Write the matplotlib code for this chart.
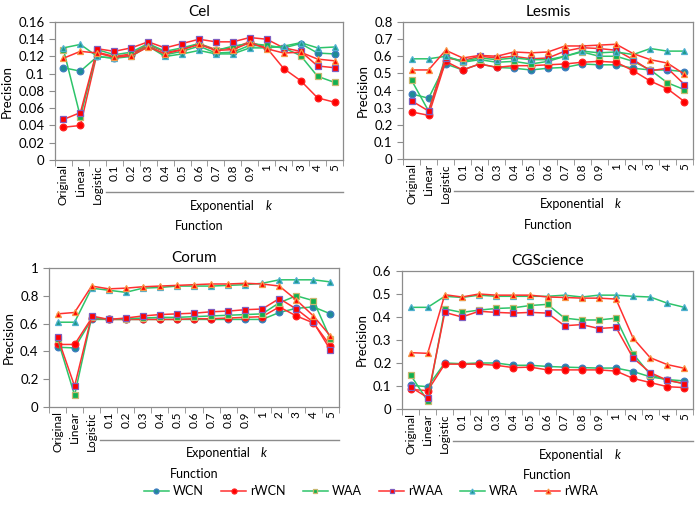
import matplotlib
matplotlib.use('Agg')
import matplotlib.pyplot as plt
from matplotlib.ticker import FuncFormatter

plt.rcParams['font.family'] = ['Lato', 'DejaVu Sans']

# categories on the x axis
categories = ['Original', 'Linear', 'Logistic', '0.1', '0.2', '0.3', '0.4', '0.5',
              '0.6', '0.7', '0.8', '0.9', '1', '2', '3', '4', '5']
series_names = ['WCN', 'rWCN', 'WAA', 'rWAA', 'WRA', 'rWRA']

# Cel
cel_wcn = [0.107, 0.103, 0.120, 0.118, 0.122, 0.133, 0.122, 0.126, 0.132, 0.124, 0.125, 0.133, 0.132, 0.130, 0.135, 0.124, 0.123]
cel_rwcn = [0.038, 0.040, 0.125, 0.120, 0.123, 0.134, 0.125, 0.128, 0.135, 0.128, 0.130, 0.137, 0.130, 0.106, 0.092, 0.072, 0.067]
cel_waa = [0.128, 0.050, 0.128, 0.122, 0.125, 0.135, 0.126, 0.130, 0.135, 0.127, 0.132, 0.135, 0.133, 0.130, 0.121, 0.097, 0.090]
cel_rwaa = [0.047, 0.055, 0.129, 0.126, 0.130, 0.137, 0.130, 0.135, 0.140, 0.137, 0.137, 0.142, 0.140, 0.130, 0.126, 0.109, 0.107]
cel_wra = [0.130, 0.134, 0.120, 0.118, 0.120, 0.132, 0.120, 0.123, 0.127, 0.123, 0.123, 0.130, 0.130, 0.132, 0.136, 0.130, 0.131]
cel_rwra = [0.118, 0.126, 0.124, 0.119, 0.121, 0.131, 0.123, 0.128, 0.134, 0.127, 0.128, 0.136, 0.129, 0.124, 0.125, 0.117, 0.115]

# Lesmis
les_wcn = [0.38, 0.355, 0.555, 0.52, 0.555, 0.535, 0.53, 0.52, 0.53, 0.535, 0.555, 0.55, 0.55, 0.53, 0.52, 0.52, 0.51]
les_rwcn = [0.275, 0.255, 0.57, 0.52, 0.555, 0.535, 0.545, 0.545, 0.55, 0.555, 0.565, 0.57, 0.565, 0.515, 0.455, 0.41, 0.335]
les_waa = [0.46, 0.28, 0.60, 0.565, 0.58, 0.565, 0.57, 0.555, 0.57, 0.60, 0.625, 0.60, 0.60, 0.57, 0.52, 0.445, 0.405]
les_rwaa = [0.34, 0.28, 0.59, 0.575, 0.60, 0.59, 0.60, 0.585, 0.59, 0.63, 0.65, 0.645, 0.635, 0.58, 0.515, 0.53, 0.435]
les_wra = [0.585, 0.585, 0.60, 0.57, 0.59, 0.58, 0.59, 0.58, 0.58, 0.60, 0.63, 0.62, 0.625, 0.61, 0.645, 0.63, 0.63]
les_rwra = [0.52, 0.52, 0.635, 0.59, 0.605, 0.60, 0.625, 0.62, 0.625, 0.66, 0.66, 0.665, 0.67, 0.615, 0.58, 0.56, 0.495]

# Corum
cor_wcn = [0.43, 0.425, 0.63, 0.63, 0.63, 0.63, 0.63, 0.63, 0.63, 0.63, 0.63, 0.63, 0.63, 0.68, 0.71, 0.72, 0.67]
cor_rwcn = [0.45, 0.45, 0.64, 0.63, 0.63, 0.63, 0.63, 0.63, 0.635, 0.635, 0.64, 0.645, 0.65, 0.72, 0.655, 0.605, 0.44]
cor_waa = [0.49, 0.085, 0.645, 0.63, 0.635, 0.64, 0.645, 0.645, 0.65, 0.655, 0.66, 0.665, 0.67, 0.75, 0.80, 0.765, 0.49]
cor_rwaa = [0.505, 0.15, 0.655, 0.63, 0.64, 0.655, 0.665, 0.67, 0.675, 0.685, 0.69, 0.70, 0.705, 0.78, 0.705, 0.61, 0.41]
cor_wra = [0.61, 0.61, 0.855, 0.84, 0.825, 0.855, 0.86, 0.87, 0.87, 0.87, 0.875, 0.88, 0.89, 0.915, 0.915, 0.915, 0.90]
cor_rwra = [0.67, 0.68, 0.87, 0.85, 0.855, 0.865, 0.87, 0.875, 0.88, 0.885, 0.885, 0.89, 0.885, 0.87, 0.77, 0.655, 0.51]

# CGScience
cgs_wcn = [0.103, 0.097, 0.20, 0.197, 0.20, 0.20, 0.19, 0.19, 0.185, 0.182, 0.18, 0.178, 0.178, 0.163, 0.14, 0.128, 0.122]
cgs_rwcn = [0.085, 0.08, 0.195, 0.195, 0.195, 0.19, 0.18, 0.182, 0.17, 0.17, 0.17, 0.17, 0.165, 0.133, 0.115, 0.097, 0.093]
cgs_waa = [0.148, 0.035, 0.435, 0.42, 0.43, 0.437, 0.44, 0.45, 0.455, 0.395, 0.387, 0.387, 0.395, 0.24, 0.15, 0.125, 0.11]
cgs_rwaa = [0.095, 0.05, 0.42, 0.40, 0.425, 0.42, 0.417, 0.42, 0.417, 0.362, 0.367, 0.35, 0.355, 0.222, 0.158, 0.125, 0.11]
cgs_wra = [0.442, 0.442, 0.49, 0.485, 0.495, 0.49, 0.49, 0.49, 0.49, 0.495, 0.487, 0.495, 0.495, 0.49, 0.487, 0.46, 0.442]
cgs_rwra = [0.245, 0.242, 0.497, 0.487, 0.50, 0.495, 0.495, 0.495, 0.487, 0.485, 0.482, 0.482, 0.478, 0.308, 0.223, 0.193, 0.177]

GREEN = '#2DC46A'
RED = '#FF3030'
# line colour, marker, marker face, marker edge
styles = [
    (GREEN, 'o', '#1E8C96', '#3E7CC0'),
    (RED, 'o', '#FF0000', '#FF2020'),
    (GREEN, 's', '#10B050', '#C8B870'),
    (RED, 's', '#FF0000', '#8060C0'),
    (GREEN, '^', '#1A9A88', '#50B0D0'),
    (RED, '^', '#FF0000', '#F79646'),
]

panels = [
    ('Cel', [cel_wcn, cel_rwcn, cel_waa, cel_rwaa, cel_wra, cel_rwra], 0.16, 0.02,
     [55 / 700, 1 - 160 / 508, 288 / 700, 138 / 508]),
    ('Lesmis', [les_wcn, les_rwcn, les_waa, les_rwaa, les_wra, les_rwra], 0.8, 0.1,
     [403 / 700, 1 - 159 / 508, 290 / 700, 137 / 508]),
    ('Corum', [cor_wcn, cor_rwcn, cor_waa, cor_rwaa, cor_wra, cor_rwra], 1.0, 0.2,
     [49 / 700, 1 - 407 / 508, 290 / 700, 139 / 508]),
    ('CGScience', [cgs_wcn, cgs_rwcn, cgs_waa, cgs_rwaa, cgs_wra, cgs_rwra], 0.6, 0.1,
     [402 / 700, 1 - 409 / 508, 291 / 700, 138 / 508]),
]

fig = plt.figure(figsize=(7, 5.08), dpi=100)
GRAY = '#8C8C8C'
x = list(range(len(categories)))
handles = []

for title, data, ymax, ystep, rect in panels:
    ax = fig.add_axes(rect)
    for (lc, mk, mf, me), ys, name in zip(styles, data, series_names):
        h, = ax.plot(x, ys, color=lc, lw=1.1, marker=mk, markersize=4.8,
                     markerfacecolor=mf, markeredgecolor=me, markeredgewidth=0.9,
                     label=name)
        if title == 'Cel':
            handles.append(h)
    ax.set_xlim(-0.5, len(categories) - 0.5)
    ax.set_ylim(0, ymax)
    n = int(round(ymax / ystep))
    ax.set_yticks([i * ystep for i in range(n + 1)])
    ax.yaxis.set_major_formatter(FuncFormatter(lambda v, p: f'{v:g}'))
    ax.set_xticks(x)
    ax.set_xticklabels(categories, rotation=90, fontsize=8.5)
    ax.set_xticks([i - 0.5 for i in range(len(categories) + 1)], minor=True)
    ax.tick_params(axis='x', which='major', length=0, pad=3)
    ax.tick_params(axis='x', which='minor', length=4, color=GRAY, direction='out')
    ax.tick_params(axis='y', length=4, color=GRAY, labelsize=9.5, direction='out')
    for sp in ax.spines.values():
        sp.set_color(GRAY)
        sp.set_linewidth(0.9)
    ax.set_title(title, fontsize=11, pad=4)
    ax.set_ylabel('Precision', fontsize=9.5, labelpad=4)

    # exponential bracket under the numeric categories
    tr = ax.get_xaxis_transform()
    ax.plot([2.5, 16.5], [-0.235, -0.235], transform=tr, color=GRAY, lw=1, clip_on=False)
    ax.text(9.4, -0.33, 'Exponential', transform=tr, ha='center', va='center', fontsize=9)
    ax.text(12.1, -0.33, 'k', transform=tr, ha='center', va='center', fontsize=9,
            style='italic')
    ax.text(0.5, -0.48, 'Function', transform=ax.transAxes, ha='center', va='center',
            fontsize=9)

fig.legend(handles=handles, labels=series_names, loc='center', ncol=6,
           bbox_to_anchor=(0.53, 1 - 491 / 508), frameon=False, fontsize=9,
           handlelength=2.0, columnspacing=1.4, handletextpad=0.3, markerscale=0.75)

fig.savefig('out.png', dpi=100)
